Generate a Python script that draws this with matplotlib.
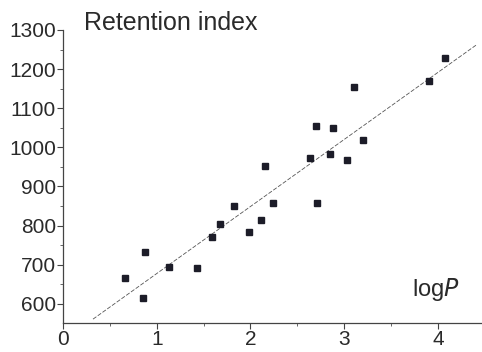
import numpy as np
import matplotlib.pyplot as plt
from matplotlib.ticker import MultipleLocator

plt.rcParams['font.family'] = ['Liberation Sans', 'DejaVu Sans']

# logP vs retention index
log_p = [0.66, 0.85, 0.87, 1.13, 1.43, 1.59, 1.68, 1.82, 1.98, 2.11, 2.16,
         2.24, 2.64, 2.70, 2.71, 2.85, 2.88, 3.03, 3.10, 3.20, 3.90, 4.07]
ret_index = [666, 614, 733, 695, 691, 771, 804, 851, 783, 815, 952,
             857, 973, 1055, 857, 983, 1050, 967, 1154, 1018, 1170, 1228]

# regression line RI = a + b*logP
fit_a = 506
fit_b = 171.4
fit_x = [0.32, 4.41]

fig = plt.figure(figsize=(4.82, 3.52), dpi=100)
ax = fig.add_axes([0.1307, 0.0824, 0.8693, 0.8324])

ax.plot(log_p, ret_index, 's', color='#1c1c28', markersize=4.3, zorder=3)
xs = np.array(fit_x)
ax.plot(xs, fit_a + fit_b * xs, color='#555555', lw=0.6, ls=(0, (5, 2)))

ax.set_xlim(0, 4.47)
ax.set_ylim(551, 1300)
ax.xaxis.set_major_locator(MultipleLocator(1))
ax.xaxis.set_minor_locator(MultipleLocator(0.5))
ax.yaxis.set_major_locator(MultipleLocator(100))
ax.yaxis.set_minor_locator(MultipleLocator(50))

for side in ['top', 'right']:
    ax.spines[side].set_visible(False)
for side in ['left', 'bottom']:
    ax.spines[side].set_color('#444444')
    ax.spines[side].set_linewidth(0.9)

ax.tick_params(which='major', length=4, width=0.8, color='#444444',
               labelsize=15, labelcolor='#2a2a2a', pad=1)
ax.tick_params(which='minor', length=2.5, width=0.7, color='#666666')

fig.text(0.174, 0.9, 'Retention index', fontsize=18, color='#2a2a2a',
         va='bottom')
ax.text(3.72, 620, r'log$\it{P}$', fontsize=17, color='#2a2a2a')

fig.savefig('out.png', dpi=100)
